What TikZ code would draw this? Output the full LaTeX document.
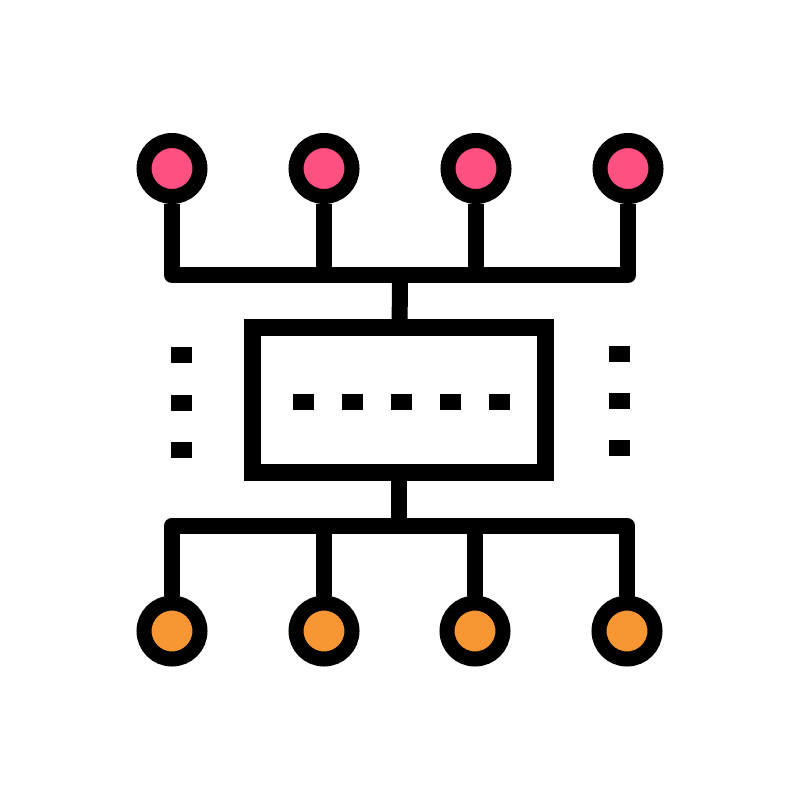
\documentclass[tikz,border=0pt]{standalone}
\usetikzlibrary{positioning}

\definecolor{pinkdot}{RGB}{255,80,130}
\definecolor{orangedot}{RGB}{247,150,50}

\begin{document}
\begin{tikzpicture}[x=1pt, y=-1pt]
    \useasboundingbox (0, 0) rectangle (800, 800);

    \begin{scope}[every node/.style={circle, draw, line width=15pt, inner sep=0pt, minimum size=56pt}]
        \node[fill=pinkdot] (t1) at (172, 168.5) {};
        \node[fill=pinkdot] (t2) at (324, 168.5) {};
        \node[fill=pinkdot] (t3) at (476, 168.5) {};
        \node[fill=pinkdot] (t4) at (628, 168.5) {};

        \node[fill=orangedot] (b1) at (172, 631) {};
        \node[fill=orangedot] (b2) at (324, 631) {};
        \node[fill=orangedot] (b3) at (475, 631) {};
        \node[fill=orangedot] (b4) at (627, 631) {};
    \end{scope}

    \node[draw, line width=17pt, inner sep=0pt, minimum width=293pt, minimum height=144.5pt] (box) at (399, 400) {};

    \coordinate (tjoin) at (400, 275);
    \coordinate (bjoin) at (399, 525.5);

    \begin{scope}[line width=16pt, line join=round]
        \draw (t1) |- (tjoin) -| (t4);
        \draw (t2) -- (t2 |- tjoin);
        \draw (t3) -- (t3 |- tjoin);
        \draw (tjoin) -- (box);

        \draw (b1) |- (bjoin) -| (b4);
        \draw (b2) -- (b2 |- bjoin);
        \draw (b3) -- (b3 |- bjoin);
        \draw (bjoin) -- (box);
    \end{scope}

    \begin{scope}[every node/.style={fill, inner sep=0pt, minimum width=21pt, minimum height=16pt}]
        \foreach \i/\x in {1/303.5, 2/352.5, 3/401.5, 4/450.5, 5/499.5}
            \node (dash\i) at (\x, 402) {};
        \foreach \i/\y in {1/355, 2/402.5, 3/449.5}
            \node (lsq\i) at (181.5, \y) {};
        \foreach \i/\y in {1/353.5, 2/400.5, 3/447.5}
            \node (rsq\i) at (619, \y) {};
    \end{scope}
\end{tikzpicture}
\end{document}
